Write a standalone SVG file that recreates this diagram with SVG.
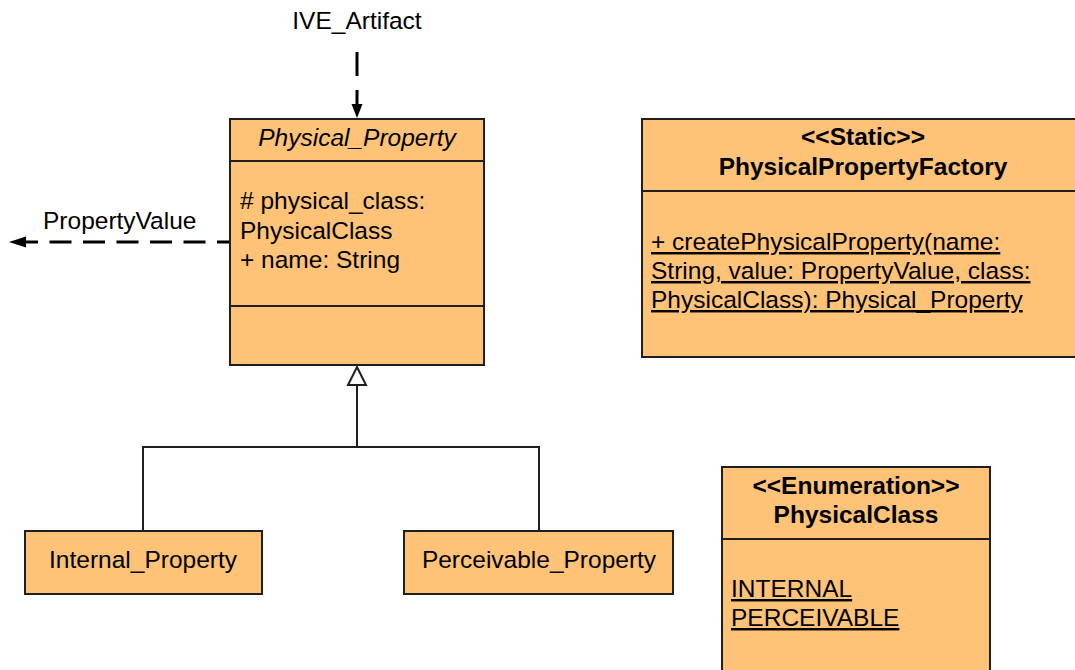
<svg xmlns="http://www.w3.org/2000/svg" width="1075" height="670" viewBox="0 0 1075 670">
  <style>
    .box { fill: #fec377; stroke: #1f1f1f; stroke-width: 2; }
    .sep { stroke: #1f1f1f; stroke-width: 2; }
    .txt { font-family: "Liberation Sans", Arial, sans-serif; font-size: 24.5px; fill: #000; }
    .bold { font-weight: bold; }
    .ital { font-style: italic; }
    .u { text-decoration: underline; }
    .line { fill: none; stroke: #1f1f1f; stroke-width: 2; }
    .dash { fill: none; stroke: #000; stroke-width: 3; }
  </style>

  <rect width="1075" height="670" fill="#fff"/>

  <!-- connectors -->
  <g id="connectors">
    <!-- dependency to IVE_Artifact -->
    <line class="dash" x1="357" y1="52" x2="357" y2="106" stroke-dasharray="24 14"/>
    <path d="M351.5,104 L362.5,104 L357,118 Z" fill="#000"/>
    <!-- dependency to PropertyValue -->
    <line class="dash" x1="230" y1="242" x2="22" y2="242" stroke-dasharray="22 11.5" stroke-dashoffset="9"/>
    <path d="M26,236.5 L26,247.5 L9,242 Z" fill="#000"/>
    <!-- generalization tree -->
    <path class="line" d="M143,531 V447 H539 V531 M357,447 V385"/>
    <path d="M357,367 L366,385 L348,385 Z" fill="#fff" stroke="#1f1f1f" stroke-width="2"/>
  </g>

  <text class="txt" x="357" y="29" text-anchor="middle">IVE_Artifact</text>
  <text class="txt" x="43" y="229">PropertyValue</text>

  <g id="physical-property">
    <rect class="box" x="230" y="119" width="254" height="246"/>
    <line class="sep" x1="230" y1="161" x2="484" y2="161"/>
    <line class="sep" x1="230" y1="306" x2="484" y2="306"/>
    <text class="txt ital" x="357" y="146" text-anchor="middle">Physical_Property</text>
    <text class="txt" x="240" y="209">
      <tspan x="240" y="209"># physical_class:</tspan>
      <tspan x="240" y="239">PhysicalClass</tspan>
      <tspan x="240" y="268">+ name: String</tspan>
    </text>
  </g>

  <g id="factory">
    <rect class="box" x="642" y="119" width="440" height="238"/>
    <line class="sep" x1="642" y1="191" x2="1076" y2="191"/>
    <text class="txt bold" x="863" y="145" text-anchor="middle">&lt;&lt;Static&gt;&gt;</text>
    <text class="txt bold" x="863" y="175" text-anchor="middle">PhysicalPropertyFactory</text>
    <text class="txt u" x="651" y="250">+ createPhysicalProperty(name:</text>
    <text class="txt u" x="651" y="279">String, value: PropertyValue, class:</text>
    <text class="txt u" x="651" y="308">PhysicalClass): Physical_Property</text>
  </g>

  <g id="internal-property">
    <rect class="box" x="25" y="531" width="237" height="63"/>
    <text class="txt" x="143" y="568" text-anchor="middle">Internal_Property</text>
  </g>

  <g id="perceivable-property">
    <rect class="box" x="404" y="531" width="269" height="63"/>
    <text class="txt" x="539" y="568" text-anchor="middle">Perceivable_Property</text>
  </g>

  <g id="physical-class">
    <rect class="box" x="722" y="467" width="268" height="210"/>
    <line class="sep" x1="722" y1="539" x2="990" y2="539"/>
    <text class="txt bold" x="856" y="494" text-anchor="middle">&lt;&lt;Enumeration&gt;&gt;</text>
    <text class="txt bold" x="856" y="523" text-anchor="middle">PhysicalClass</text>
    <text class="txt u" x="731" y="597">INTERNAL</text>
    <text class="txt u" x="731" y="626">PERCEIVABLE</text>
  </g>
</svg>
